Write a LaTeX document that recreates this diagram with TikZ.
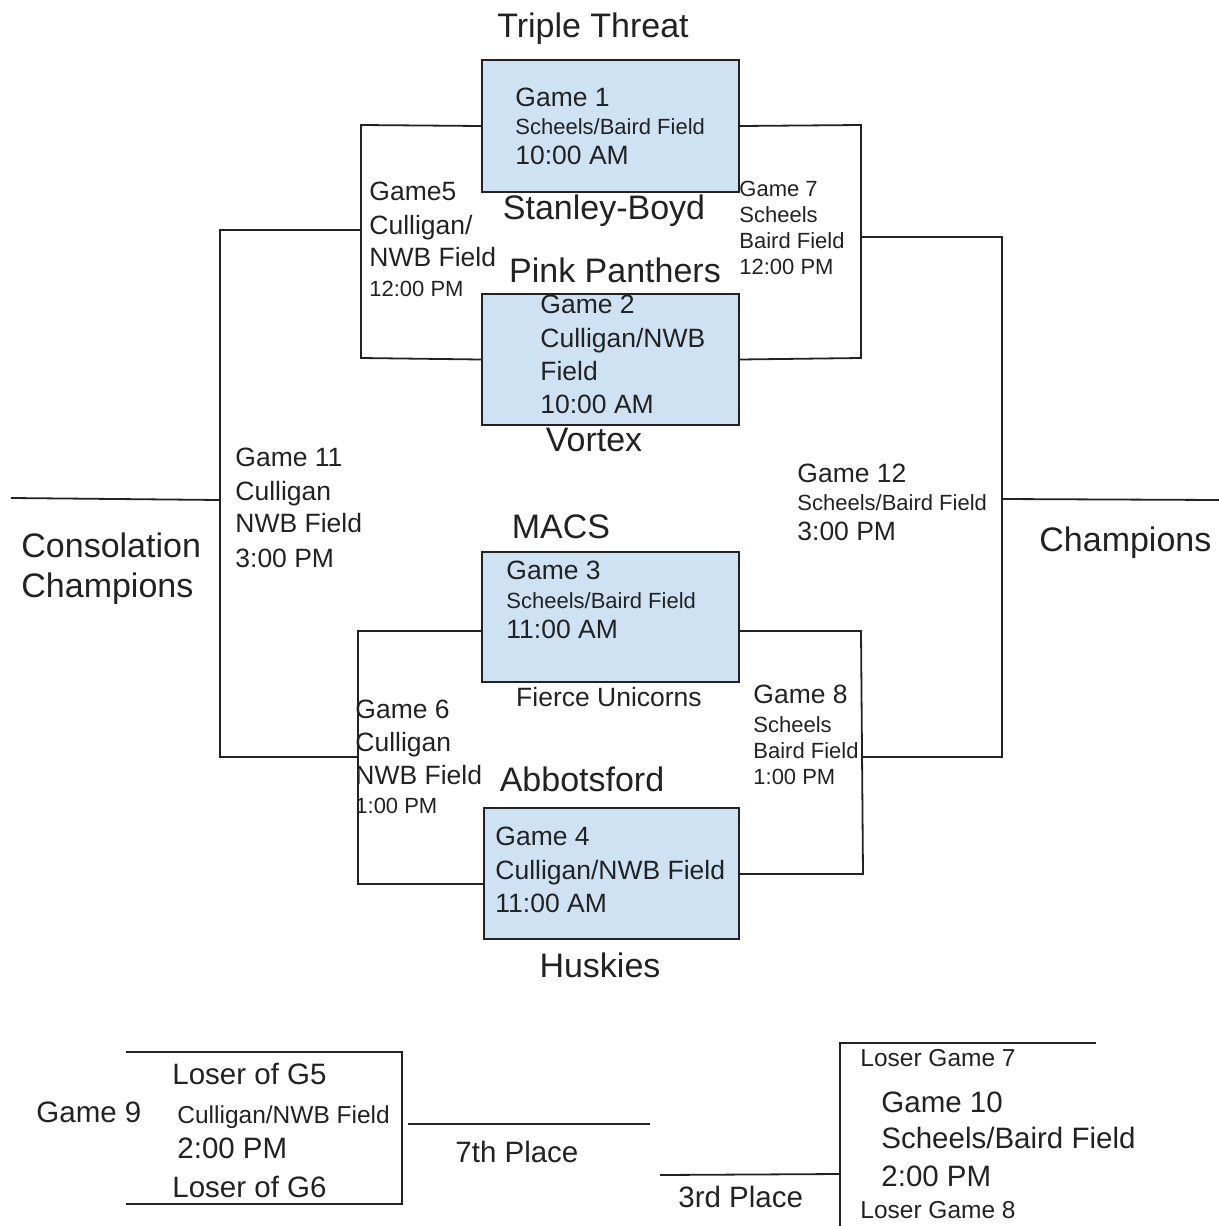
\documentclass[tikz,border=0pt]{standalone}
\usepackage{fontspec}
\setmainfont{Liberation Sans}
\usetikzlibrary{positioning}
\definecolor{boxblue}{HTML}{CFE2F3}
\definecolor{ink}{HTML}{222222}

\begin{document}
\begin{tikzpicture}[x=0.5pt, y=-0.5pt,
    gamebox/.style={draw=ink, line width=1pt, fill=boxblue, anchor=north west, inner sep=0pt},
    wire/.style={draw=ink, line width=0.9pt},
    team/.style={font=\fontsize{17}{20}\selectfont, anchor=base, inner sep=0pt, text=ink},
    big/.style={font=\fontsize{17}{20}\selectfont, anchor=base west, inner sep=0pt, text=ink},
    txt/.style={font=\fontsize{13.25}{16}\selectfont, anchor=base west, inner sep=0pt, text=ink},
    sm/.style={font=\fontsize{11}{13}\selectfont, anchor=base west, inner sep=0pt, text=ink},
    lg/.style={font=\fontsize{14.75}{17}\selectfont, anchor=base west, inner sep=0pt, text=ink},
    ls/.style={font=\fontsize{12.25}{14}\selectfont, anchor=base west, inner sep=0pt, text=ink}]
    \useasboundingbox (0,0) rectangle (1219,1226);

    % first round boxes
    \node[gamebox, minimum width=128.5pt, minimum height=66pt] (g1) at (481,59) {};
    \node[gamebox, minimum width=128.5pt, minimum height=65.5pt] (g2) at (481,293) {};
    \node[gamebox, minimum width=128.5pt, minimum height=65pt] (g3) at (481,551) {};
    \node[gamebox, minimum width=127.5pt, minimum height=65.5pt] (g4) at (483,807) {};

    % left brackets
    \coordinate (l1a) at (361,125);
    \coordinate (l1b) at (361,358);
    \draw[wire] (g1.west) -- (l1a) -- (l1b) -- (g2.west);
    \coordinate (l2a) at (358,631);
    \coordinate (l2b) at (358,884);
    \draw[wire] (g3.west |- l2a) -- (l2a) -- (l2b) -- (g4.west |- l2b);
    \coordinate (l3a) at (220,230);
    \coordinate (l3b) at (220,757);
    \draw[wire] (l1a |- l3a) -- (l3a) -- (l3b) -- (l2a |- l3b);
    \coordinate (l3m) at (220,500);
    \coordinate (cons) at (11,498);
    \draw[wire] (l3m) -- (cons);

    % right brackets
    \coordinate (r1a) at (861,125);
    \coordinate (r1b) at (861,358);
    \draw[wire] (g1.east) -- (r1a) -- (r1b) -- (g2.east);
    \coordinate (r2a) at (861,631);
    \coordinate (r2b) at (863,874);
    \draw[wire] (g3.east |- r2a) -- (r2a) -- (r2b) -- (g4.east |- r2b);
    \coordinate (r3a) at (1002,237);
    \coordinate (r3b) at (1002,757);
    \draw[wire] (r1a |- r3a) -- (r3a) -- (r3b) -- (r2a |- r3b);
    \coordinate (r3m) at (1002,499);
    \coordinate (champ) at (1219,500);
    \draw[wire] (r3m) -- (champ);

    % placement games
    \coordinate (b9a) at (126,1052);
    \coordinate (b9b) at (402,1052);
    \coordinate (b9c) at (402,1204);
    \coordinate (b9d) at (126,1204);
    \draw[wire] (b9a) -- (b9b) -- (b9c) -- (b9d);
    \coordinate (p7a) at (408,1124);
    \coordinate (p7b) at (650,1124);
    \draw[wire] (p7a) -- (p7b);
    \coordinate (p3a) at (660,1175);
    \coordinate (p3b) at (840,1174);
    \draw[wire] (p3a) -- (p3b);
    \coordinate (b10t) at (840,1043);
    \coordinate (b10r) at (1096,1043);
    \coordinate (b10b) at (840,1226);
    \draw[wire] (b10r) -- (b10t) -- (b10b);

    % teams
    \node[team] (tm1) at (593,37) {Triple Threat};
    \node[team] (tm2) at (604,219) {Stanley-Boyd};
    \node[team] (tm3) at (615,282) {Pink Panthers};
    \node[team] (tm4) at (594,451) {Vortex};
    \node[team] (tm5) at (561,538) {MACS};
    \node[team, font=\fontsize{13.25}{16}\selectfont] (tm6) at (609,706) {Fierce Unicorns};
    \node[team] (tm7) at (582,791) {Abbotsford};
    \node[team] (tm8) at (600,977) {Huskies};
    \node[big] (cc1) at (21,557) {Consolation};
    \node[big] (cc2) at (21,597) {Champions};
    \node[big] (ch) at (1039,551) {Champions};

    % game 1 - 4
    \node[txt] (g1a) at (515,106) {Game 1};
    \node[sm] (g1b) at (515,134) {Scheels/Baird Field};
    \node[txt] (g1c) at (515,164) {10:00 AM};
    \node[txt] (g2a) at (540,313) {Game 2};
    \node[txt] (g2b) at (540,347) {Culligan/NWB};
    \node[txt] (g2c) at (540,380) {Field};
    \node[txt] (g2d) at (540,413) {10:00 AM};
    \node[txt] (g3a) at (506,579) {Game 3};
    \node[sm] (g3b) at (506,608) {Scheels/Baird Field};
    \node[txt] (g3c) at (506,638) {11:00 AM};
    \node[txt] (g4a) at (495,845) {Game 4};
    \node[txt] (g4b) at (495,879) {Culligan/NWB Field};
    \node[txt] (g4c) at (495,912) {11:00 AM};

    % game 5 - 8
    \node[txt] (g5a) at (369,200) {Game5};
    \node[txt] (g5b) at (369,234) {Culligan/};
    \node[txt] (g5c) at (369,266) {NWB Field};
    \node[sm] (g5d) at (369,296) {12:00 PM};
    \node[txt] (g6a) at (355,718) {Game 6};
    \node[txt] (g6b) at (355,751) {Culligan};
    \node[txt] (g6c) at (355,784) {NWB Field};
    \node[sm] (g6d) at (355,813) {1:00 PM};
    \node[sm] (g7a) at (739,196) {Game 7};
    \node[sm] (g7b) at (739,222) {Scheels};
    \node[sm] (g7c) at (739,248) {Baird Field};
    \node[sm] (g7d) at (739,274) {12:00 PM};
    \node[txt] (g8a) at (753,703) {Game 8};
    \node[sm] (g8b) at (753,732) {Scheels};
    \node[sm] (g8c) at (753,758) {Baird Field};
    \node[sm] (g8d) at (753,784) {1:00 PM};

    % game 11, 12
    \node[txt] (g11a) at (235,466) {Game 11};
    \node[txt] (g11b) at (235,500) {Culligan};
    \node[txt] (g11c) at (235,532) {NWB Field};
    \node[txt] (g11d) at (235,567) {3:00 PM};
    \node[txt] (g12a) at (797,482) {Game 12};
    \node[sm] (g12b) at (797,510) {Scheels/Baird Field};
    \node[txt] (g12c) at (797,540) {3:00 PM};

    % game 9, 10
    \node[lg] (g9) at (36,1122) {Game 9};
    \node[lg] (g9a) at (172,1084) {Loser of G5};
    \node[ls] (g9b) at (177,1123) {Culligan/NWB Field};
    \node[lg] (g9c) at (177,1158) {2:00 PM};
    \node[lg] (g9d) at (172,1197) {Loser of G6};
    \node[lg] (pl7) at (455,1162) {7th Place};
    \node[lg] (pl3) at (678,1207) {3rd Place};
    \node[ls] (g10a) at (860,1066) {Loser Game 7};
    \node[lg] (g10b) at (881,1112) {Game 10};
    \node[lg] (g10c) at (881,1148) {Scheels/Baird Field};
    \node[lg] (g10d) at (881,1186) {2:00 PM};
    \node[ls] (g10e) at (860,1218) {Loser Game 8};
\end{tikzpicture}
\end{document}
